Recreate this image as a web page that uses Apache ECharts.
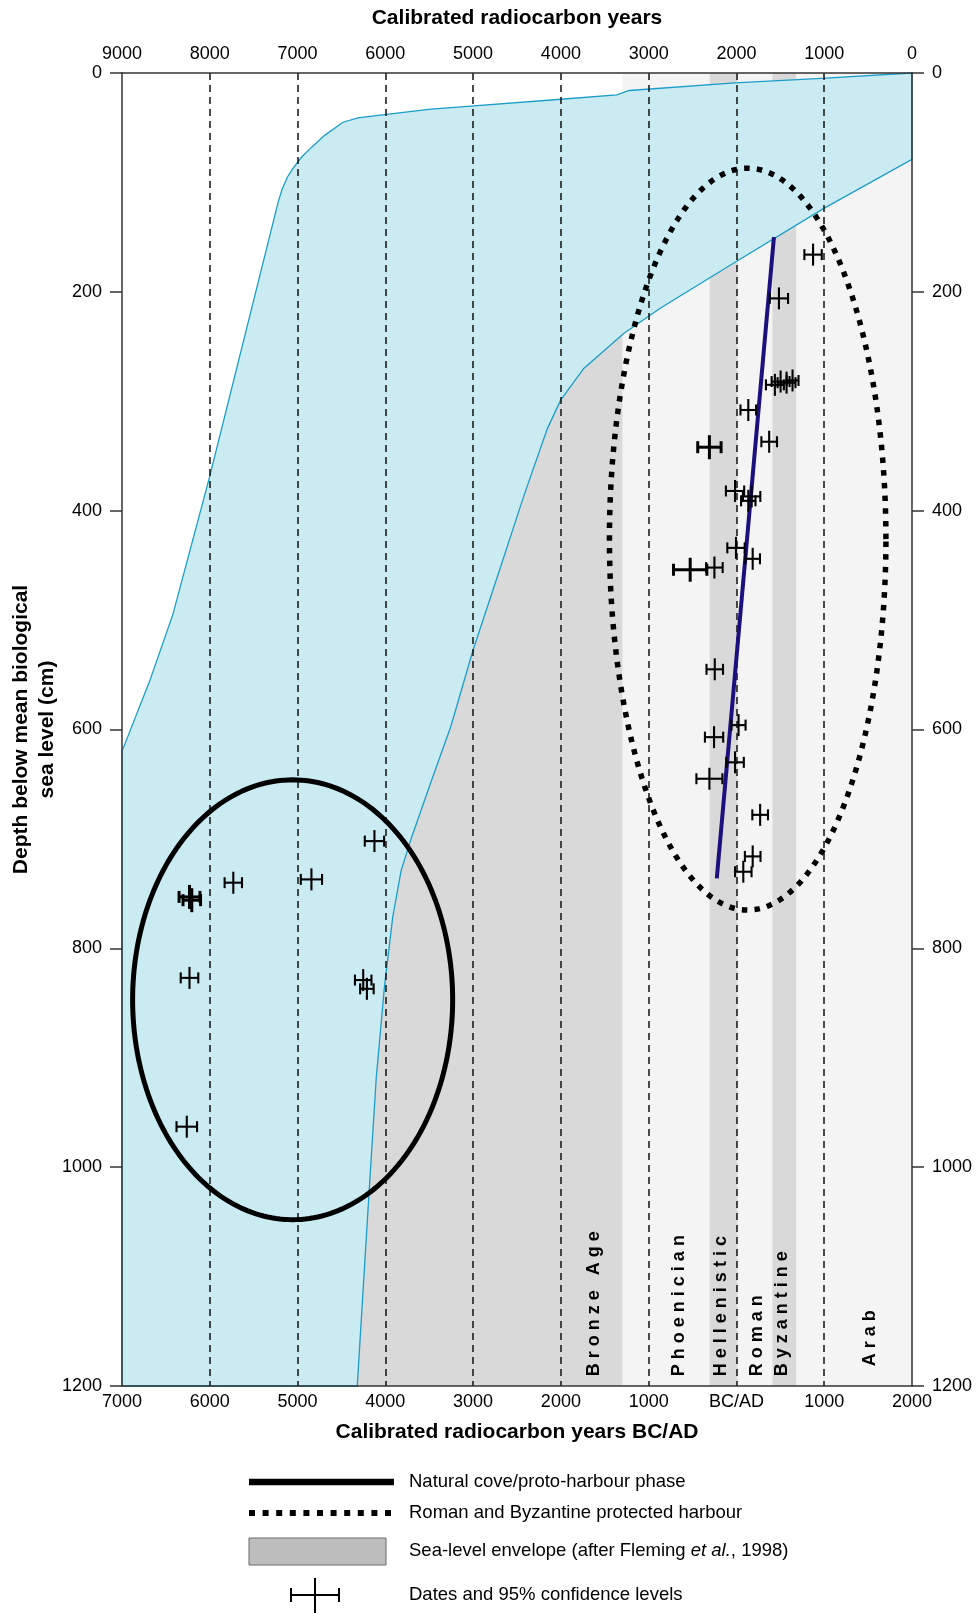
<!DOCTYPE html>
<html>
<head>
<meta charset="utf-8">
<title>Depth below mean biological sea level vs calibrated radiocarbon years</title>
<script src="https://cdn.jsdelivr.net/npm/echarts@6/dist/echarts.min.js"></script>
<style>
  html, body { margin: 0; padding: 0; background: #fff; }
  #chart { width: 976px; height: 1613px; }
</style>
</head>
<body>
<div id="chart"></div>
<script>
// years are AD (negative = BC), depths in cm below mean biological sea level
var yearMin = -7000, yearMax = 2000, depthMax = 1200;

var bottomTickLabels = ['7000', '6000', '5000', '4000', '3000', '2000', '1000', 'BC/AD', '1000', '2000'];
var topTickLabels = ['9000', '8000', '7000', '6000', '5000', '4000', '3000', '2000', '1000', '0'];

// sea-level envelope (Fleming et al. 1998), upper and lower limit
var upperYears = [-7000, -6686, -6421, -6005, -5221, -5175, -5115, -5050, -4956, -4842, -4691, -4483, -4312, -4010, -3481, -2989, -2000, -1363, -1221, -20, 971, 2000];
var upperDepth = [620, 556, 495, 370, 118, 106, 95, 87, 77, 68, 57, 45, 41, 38, 33, 30, 24, 20, 16, 9, 5, 0];
var lowerYears = [-4320, -4180, -4104, -4010, -3915, -3820, -3707, -3480, -3253, -3003, -2722, -2420, -2154, -2003, -1739, -1285, -868, -16, 991, 2000];
var lowerDepth = [1200, 1016, 919, 835, 771, 729, 700, 648, 597, 528, 460, 386, 325, 299, 270, 238, 215, 173, 124, 79];

// cultural periods
var bronzeAgeEnd = -1300;
var darkBandStart = [-305, 410];   // Hellenistic, Byzantine
var darkBandEnd = [10, 680];
var periodNames = ['Bronze Age', 'Phoenician', 'Hellenistic', 'Roman', 'Byzantine', 'Arab'];
var periodLabelYears = [-1621, -657, -171, 239, 518, 1517];
var periodLabelDepth = [1191, 1191, 1191, 1191, 1191, 1182];

// dated samples: calibrated age, depth, 95% half range (years), heavy mark
var dateYears = [873, 484, 438, 503, 571, 639, 135, -308, 373, -16, 173, 135, -5, 185, -251, -527, -247, 24, -255, -16, -308, 270, 185, 78,
                 -6231, -6205, -5732, -4842, -4124, -6231, -4252, -4210, -6262];
var dateDepth = [166, 206, 285, 282, 283, 281, 308, 342, 337, 382, 387, 391, 434, 444, 452, 454, 545, 596, 607, 630, 645, 678, 716, 730,
                 753, 756, 740, 737, 702, 827, 829, 837, 963];
var dateRange = [99, 104, 102, 102, 102, 68, 89, 133, 89, 104, 99, 82, 99, 83, 94, 190, 94, 80, 104, 100, 148, 89, 89, 94,
                 119, 100, 99, 121, 110, 100, 94, 77, 117];
var dateHeavy = [0, 0, 0, 0, 0, 0, 0, 1, 0, 0, 0, 0, 0, 0, 0, 1, 0, 0, 0, 0, 0, 0, 0, 0,
                 1, 1, 0, 0, 0, 0, 0, 0, 0];

// harbour phases: centre year, centre depth, half width (yr), half height (cm)
var coveEllipse = [-5056, 847, 1823, 201];
var harbourEllipse = [128, 426, 1575, 339];

// trend through the harbour dates
var trendYears = [427, -224];
var trendDepth = [150, 736];

var FONT = '"Liberation Sans", Arial, Helvetica, sans-serif';

var myChart = echarts.init(document.getElementById('chart'));

function pts(api, xs, ys) {
  return xs.map(function (x, i) { return api.coord([x, ys[i]]); });
}
function box(api, x0, x1) {
  return [api.coord([x0, 0]), api.coord([x1, 0]), api.coord([x1, depthMax]), api.coord([x0, depthMax])];
}

function renderBackground(params, api) {
  var lower = pts(api, lowerYears, lowerDepth);
  var upper = pts(api, upperYears, upperDepth);
  var children = [];
  // below the envelope
  children.push({ type: 'polygon', shape: { points: lower.concat([api.coord([yearMax, depthMax])]) },
    style: { fill: '#d9d9d9' } });
  // historic periods
  children.push({ type: 'polygon', shape: { points: box(api, bronzeAgeEnd, yearMax) }, style: { fill: '#f4f4f4' } });
  darkBandStart.forEach(function (s, i) {
    children.push({ type: 'polygon', shape: { points: box(api, s, darkBandEnd[i]) }, style: { fill: '#d9d9d9' } });
  });
  // envelope
  var env = upper.concat(lower.slice().reverse()).concat([api.coord([yearMin, depthMax])]);
  children.push({ type: 'polygon', shape: { points: env },
    style: { fill: '#cbebf2', stroke: '#1a9dc8', lineWidth: 1.3 } });
  return { type: 'group', children: children };
}

function renderDate(params, api) {
  var yr = api.value(0), d = api.value(1), r = api.value(2), heavy = api.value(3);
  var c = api.coord([yr, d]);
  var l = api.coord([yr - r, d])[0];
  var rr = api.coord([yr + r, d])[0];
  var w = heavy ? 3 : 2.1;
  var arm = heavy ? 12 : 11;
  var cap = heavy ? 6 : 5.5;
  function seg(x1, y1, x2, y2) {
    return { type: 'line', shape: { x1: x1, y1: y1, x2: x2, y2: y2 }, style: { stroke: '#000', lineWidth: w } };
  }
  return { type: 'group', children: [
    seg(l, c[1], rr, c[1]),
    seg(l, c[1] - cap, l, c[1] + cap),
    seg(rr, c[1] - cap, rr, c[1] + cap),
    seg(c[0], c[1] - arm, c[0], c[1] + arm)
  ] };
}

function renderEllipse(params, api) {
  var c = api.coord([api.value(0), api.value(1)]);
  var s = api.size([api.value(2), api.value(3)]);
  var dotted = api.value(4);
  var ring = [];
  for (var i = 0; i < 240; i++) {
    var a = i / 240 * Math.PI * 2;
    ring.push([c[0] + s[0] * Math.cos(a), c[1] - s[1] * Math.sin(a)]);
  }
  return { type: 'polygon', shape: { points: ring },
    style: dotted
      ? { fill: 'none', stroke: '#000', lineWidth: 5.5, lineDash: [5.5, 7.2], lineCap: 'butt' }
      : { fill: 'none', stroke: '#000', lineWidth: 5 } };
}

function renderPeriod(params, api) {
  var i = api.value(2);
  var p = api.coord([api.value(0), api.value(1)]);
  return { type: 'text', x: p[0], y: p[1], rotation: Math.PI / 2,
    style: { text: periodNames[i].split('').join(' '), font: 'bold 18px ' + FONT, fill: '#000',
      align: 'left', verticalAlign: 'middle' } };
}

var axisLineStyle = { color: '#333', width: 1.5 };
var labelStyle = { fontSize: 18, color: '#000', fontFamily: FONT };
var nameStyle = { fontSize: 21, fontWeight: 'bold', color: '#000', fontFamily: FONT };

myChart.setOption({
  animation: false,
  grid: { left: 120, right: 64, top: 73, bottom: 227, containLabel: false },
  xAxis: [
    {
      type: 'value', position: 'bottom', min: yearMin, max: yearMax, interval: 1000, z: 3,
      axisLine: { show: true, onZero: false, lineStyle: axisLineStyle },
      axisTick: { show: false },
      splitLine: { show: true, showMinLine: false, showMaxLine: false,
        lineStyle: { color: '#111', width: 1.5, type: [7, 5] } },
      axisLabel: Object.assign({ margin: 7, formatter: function (v) { return bottomTickLabels[Math.round((v - yearMin) / 1000)]; } }, labelStyle),
      name: 'Calibrated radiocarbon years BC/AD', nameLocation: 'middle', nameGap: 36,
      nameMoveOverlap: false, nameTextStyle: nameStyle
    },
    {
      type: 'value', position: 'top', min: yearMin, max: yearMax, interval: 1000, z: 3,
      axisLine: { show: true, onZero: false, lineStyle: axisLineStyle },
      axisTick: { show: false },
      splitLine: { show: false },
      axisLabel: Object.assign({ margin: 10, formatter: function (v) { return topTickLabels[Math.round((v - yearMin) / 1000)]; } }, labelStyle),
      name: 'Calibrated radiocarbon years', nameLocation: 'middle', nameGap: 44,
      nameMoveOverlap: false, nameTextStyle: nameStyle
    }
  ],
  yAxis: [
    {
      type: 'value', position: 'left', inverse: true, min: 0, max: depthMax, interval: 200, z: 3,
      axisLine: { show: true, onZero: false, lineStyle: axisLineStyle },
      axisTick: { show: true, length: 12, lineStyle: { color: '#333', width: 1.5 } },
      splitLine: { show: false },
      axisLabel: Object.assign({ margin: 20, formatter: function (v) { return String(v); } }, labelStyle),
      name: 'Depth below mean biological\nsea level (cm)', nameLocation: 'middle', nameGap: 62,
      nameMoveOverlap: false, nameTextStyle: Object.assign({ lineHeight: 26 }, nameStyle)
    },
    {
      type: 'value', position: 'right', inverse: true, min: 0, max: depthMax, interval: 200, z: 3,
      axisLine: { show: true, onZero: false, lineStyle: axisLineStyle },
      axisTick: { show: true, length: 12, lineStyle: { color: '#333', width: 1.5 } },
      splitLine: { show: false },
      axisLabel: Object.assign({ margin: 20, formatter: function (v) { return String(v); } }, labelStyle)
    }
  ],
  series: [
    { type: 'custom', name: 'background', z: 1, silent: true, renderItem: renderBackground, data: [[0, 0]] },
    { type: 'custom', name: 'periods', z: 4, silent: true, renderItem: renderPeriod,
      data: periodLabelYears.map(function (y, i) { return [y, periodLabelDepth[i], i]; }) },
    { type: 'custom', name: 'phases', z: 5, silent: true, renderItem: renderEllipse,
      data: [coveEllipse.concat([0]), harbourEllipse.concat([1])] },
    { type: 'line', name: 'trend', z: 6, silent: true, symbol: 'none',
      lineStyle: { color: '#1c0f7e', width: 4 },
      data: trendYears.map(function (y, i) { return [y, trendDepth[i]]; }) },
    { type: 'custom', name: 'dates', z: 7, silent: true, renderItem: renderDate,
      data: dateYears.map(function (y, i) { return [y, dateDepth[i], dateRange[i], dateHeavy[i]]; }) }
  ],
  graphic: [
    { type: 'line', shape: { x1: 249, y1: 1482, x2: 394, y2: 1482 }, style: { stroke: '#000', lineWidth: 6.5 } },
    { type: 'line', shape: { x1: 249, y1: 1513, x2: 394, y2: 1513 }, style: { stroke: '#000', lineWidth: 6, lineDash: [6, 7.6] } },
    { type: 'rect', shape: { x: 249, y: 1538, width: 137, height: 27 }, style: { fill: '#bdbdbd', stroke: '#6b6b6b', lineWidth: 1 } },
    { type: 'line', shape: { x1: 291, y1: 1595, x2: 339, y2: 1595 }, style: { stroke: '#000', lineWidth: 2 } },
    { type: 'line', shape: { x1: 291, y1: 1588, x2: 291, y2: 1602 }, style: { stroke: '#000', lineWidth: 2 } },
    { type: 'line', shape: { x1: 339, y1: 1588, x2: 339, y2: 1602 }, style: { stroke: '#000', lineWidth: 2 } },
    { type: 'line', shape: { x1: 315, y1: 1578, x2: 315, y2: 1613 }, style: { stroke: '#000', lineWidth: 2 } },
    { type: 'text', x: 409, y: 1482, style: { text: 'Natural cove/proto-harbour phase', font: '18.5px ' + FONT, fill: '#000', verticalAlign: 'middle' } },
    { type: 'text', x: 409, y: 1513, style: { text: 'Roman and Byzantine protected harbour', font: '18.5px ' + FONT, fill: '#000', verticalAlign: 'middle' } },
    { type: 'text', x: 409, y: 1551, style: {
        text: '{n|Sea-level envelope (after Fleming }{i|et al.}{n|, 1998)}', verticalAlign: 'middle',
        rich: { n: { font: '18.5px ' + FONT, fill: '#000' }, i: { font: 'italic 18.5px ' + FONT, fill: '#000' } } } },
    { type: 'text', x: 409, y: 1595, style: { text: 'Dates and 95% confidence levels', font: '18.5px ' + FONT, fill: '#000', verticalAlign: 'middle' } }
  ]
});
</script>
</body>
</html>
